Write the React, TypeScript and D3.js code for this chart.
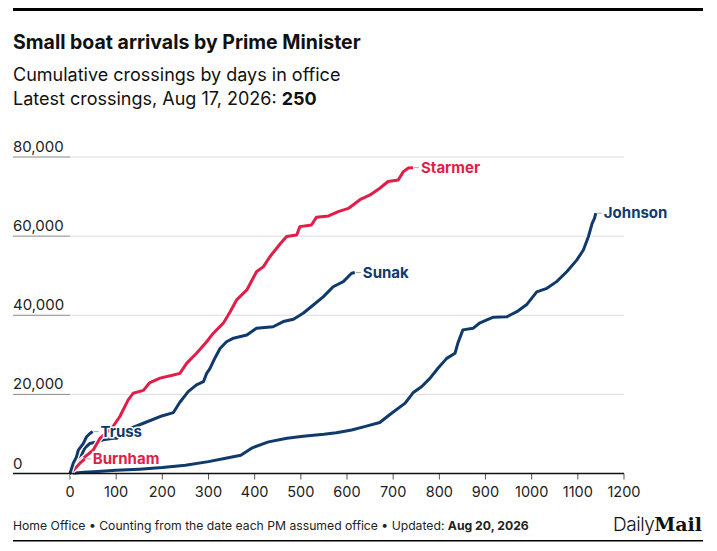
import React from "react";
import * as d3 from "d3";

// days in office / cumulative crossings
const johnsonDays = [0, 30, 60, 100, 150, 200, 250, 300, 340, 370, 395, 430, 470, 505, 550, 577, 610, 640, 671, 693, 726, 743, 762, 780, 797, 816, 834, 840, 851, 873, 888, 917, 946, 968, 990, 1011, 1033, 1054, 1076, 1098, 1112, 1123, 1131, 1136, 1139];
const johnsonVals = [0, 300, 500, 800, 1100, 1500, 2100, 3000, 3900, 4600, 6500, 8000, 8900, 9400, 9900, 10300, 11000, 11900, 12900, 14900, 17800, 20400, 22000, 24100, 26600, 29100, 30400, 32900, 36300, 36700, 38100, 39500, 39600, 40900, 42800, 45900, 46800, 48500, 51000, 54000, 56500, 59900, 63200, 64500, 65800];

const sunakDays = [0, 7, 14, 22, 32, 43, 58, 72, 94, 101, 123, 159, 195, 224, 238, 256, 274, 289, 296, 303, 314, 325, 339, 354, 383, 404, 440, 462, 484, 505, 527, 549, 570, 592, 610, 617];
const sunakVals = [0, 1500, 2800, 3900, 6400, 7600, 8000, 8500, 8900, 8900, 11000, 12700, 14400, 15400, 18000, 20700, 22400, 23200, 25300, 26500, 29200, 31600, 33300, 34200, 35000, 36700, 37100, 38400, 39000, 40500, 42600, 44700, 47200, 48500, 50600, 50800];

const trussDays = [0, 7, 14, 18, 29, 36, 42, 49];
const trussVals = [0, 2600, 4200, 5900, 7600, 9300, 10000, 10600];

const starmerDays = [0, 10, 25, 50, 65, 80, 94, 108, 126, 137, 159, 173, 195, 224, 238, 253, 274, 296, 310, 332, 347, 361, 383, 404, 419, 433, 455, 469, 491, 498, 523, 534, 560, 581, 603, 628, 650, 671, 689, 711, 722, 733, 743];
const starmerVals = [0, 1500, 3500, 5900, 8900, 10500, 12000, 14400, 18600, 20300, 21000, 23000, 24100, 24900, 25300, 27900, 30400, 33300, 35400, 38000, 40900, 43900, 46400, 51000, 52300, 54800, 58000, 59900, 60300, 62400, 62800, 64800, 65100, 66200, 67000, 69200, 70400, 72100, 73800, 74200, 76300, 77200, 77300];

const burnhamDays = [0, 8, 16, 24, 32];
const burnhamVals = [0, 900, 1900, 2900, 3700];

const yTicks = [0, 20000, 40000, 60000, 80000];
const xTicks = [0, 100, 200, 300, 400, 500, 600, 700, 800, 900, 1000, 1100, 1200];

const NAVY = "#0f3a6b";
const RED = "#e11d48";
const FONT = "Inter, 'Noto Sans', sans-serif";

type Pt = { d: number; v: number };
const zip = (days: number[], vals: number[]): Pt[] => days.map((d, i) => ({ d, v: vals[i] }));

const series = [
  { name: "Johnson", color: NAVY, pts: zip(johnsonDays, johnsonVals) },
  { name: "Sunak", color: NAVY, pts: zip(sunakDays, sunakVals) },
  { name: "Starmer", color: RED, pts: zip(starmerDays, starmerVals) },
  { name: "Burnham", color: RED, pts: zip(burnhamDays, burnhamVals) },
  { name: "Truss", color: NAVY, pts: zip(trussDays, trussVals) },
];

export default function App() {
  const W = 717, H = 551;
  const x = d3.scaleLinear().domain([0, 1200]).range([70, 624]);
  const y = d3.scaleLinear().domain([0, 80000]).range([473.5, 157]);
  const line = d3.line<Pt>().x((p) => x(p.d)).y((p) => y(p.v)).curve(d3.curveLinear);

  return (
    <svg width={W} height={H} style={{ position: "absolute", left: 0, top: 0, background: "#fff" }} fontFamily={FONT}>
      <rect x={13} y={8} width={690} height={3} fill="#000" />
      <text x={13} y={49} fontSize={19.5} fontWeight={700} fill="#111">Small boat arrivals by Prime Minister</text>
      <text x={13} y={81} fontSize={18} fill="#111">Cumulative crossings by days in office</text>
      <text x={13} y={105} fontSize={18} fill="#111">
        Latest crossings, Aug 17, 2026: <tspan fontWeight={700}>250</tspan>
      </text>

      {yTicks.map((t) => (
        <g key={t}>
          {t !== 0 && <line x1={70} x2={624} y1={y(t)} y2={y(t)} stroke="#dcdcdc" strokeWidth={1} />}
          {t !== 0 && <line x1={13} x2={70} y1={y(t)} y2={y(t)} stroke="#888" strokeWidth={1} />}
          <text x={13} y={y(t) - 5} fontSize={15} fill="#222">{d3.format(",")(t)}</text>
        </g>
      ))}

      {xTicks.map((t) => (
        <g key={t}>
          <line x1={x(t)} x2={x(t)} y1={y(0)} y2={y(0) + 6} stroke="#555" strokeWidth={1} />
          <text x={x(t)} y={497} fontSize={14.5} textAnchor="middle" fill="#222">{t}</text>
        </g>
      ))}

      {series.map((s) => {
        const last = s.pts[s.pts.length - 1];
        const ex = x(last.d), ey = y(last.v);
        return (
          <g key={s.name}>
            <path d={line(s.pts) || ""} fill="none" stroke="#fff" strokeWidth={5.5} strokeLinejoin="round" />
            <path d={line(s.pts) || ""} fill="none" stroke={s.color} strokeWidth={3} strokeLinejoin="round" />
            <line x1={ex + 1} x2={ex + 6} y1={ey} y2={ey} stroke="#aaa" strokeWidth={1} />
            <text x={ex + 8} y={ey} dy="0.35em" fontSize={15} fontWeight={700} fill={s.color}
              stroke="#fff" strokeWidth={3} paintOrder="stroke">{s.name}</text>
          </g>
        );
      })}

      <line x1={13} x2={624} y1={y(0)} y2={y(0)} stroke="#111" strokeWidth={1.3} />

      <text x={13} y={530} fontSize={12.2} fill="#222">
        Home Office • Counting from the date each PM assumed office • Updated: <tspan fontWeight={700}>Aug 20, 2026</tspan>
      </text>
      <text x={702} y={531} textAnchor="end" fill="#111">
        <tspan fontSize={19} fontWeight={300} letterSpacing={-0.5}>Daily</tspan>
        <tspan fontSize={19} fontWeight={900} fontFamily="'DejaVu Serif', serif">Mail</tspan>
      </text>
      <rect x={13} y={540} width={690} height={1.5} fill="#000" />
    </svg>
  );
}
